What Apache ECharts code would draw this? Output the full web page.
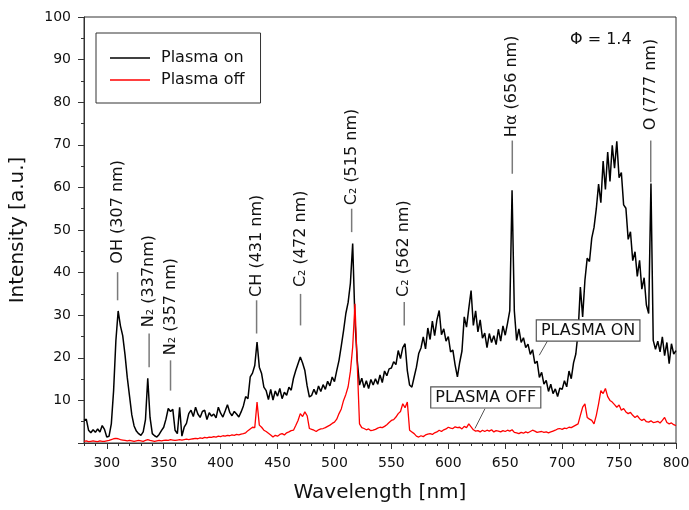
<!DOCTYPE html>
<html>
<head>
<meta charset="utf-8">
<script src="https://cdn.jsdelivr.net/npm/echarts@6/dist/echarts.min.js"></script>
<style>
  html, body { margin: 0; padding: 0; background: #fff; }
  #chart { width: 689px; height: 510px; }
</style>
</head>
<body>
<div id="chart"></div>
<script>
// Emission spectra sampled every 2 nm from 280 nm to 800 nm
const wavelengthStart = 280;
const wavelengthStep = 2;

const plasmaOn = [
  5.3, 5.6, 3.0, 2.4, 3.1, 2.5, 3.3, 2.6, 4.1, 3.2,
  1.4, 1.6, 4.5, 12.3, 24.0, 31.0, 27.5, 25.2, 20.8, 15.4,
  11.0, 6.6, 4.0, 2.8, 2.2, 1.8, 2.6, 5.5, 15.2, 6.0,
  2.2, 1.7, 1.4, 2.0, 2.9, 3.7, 5.6, 8.1, 7.4, 7.9,
  3.0, 2.2, 8.4, 1.6, 3.7, 4.6, 6.9, 7.7, 6.2, 8.4,
  6.8, 6.0, 7.4, 7.7, 5.5, 7.1, 6.3, 6.8, 5.9, 8.4,
  7.0, 6.1, 7.5, 9.0, 7.2, 6.4, 7.4, 6.8, 6.1, 7.3,
  8.7, 10.9, 10.4, 15.5, 16.4, 18.2, 23.7, 17.8, 16.3, 13.1,
  12.3, 10.2, 12.6, 10.1, 12.2, 11.0, 12.8, 10.4, 11.9, 11.2,
  13.1, 12.4, 15.2, 17.0, 18.6, 20.2, 18.8, 17.0, 13.4, 10.8,
  11.2, 12.6, 11.4, 13.4, 12.1, 13.7, 12.6, 14.5, 13.4, 15.5,
  14.4, 17.0, 19.4, 22.8, 26.4, 30.4, 33.0, 37.5, 46.8, 28.8,
  19.4, 13.6, 15.2, 13.0, 14.6, 12.8, 14.9, 13.6, 15.1, 13.8,
  16.0, 14.2, 16.9, 15.8, 17.4, 17.6, 19.1, 18.4, 21.7, 19.8,
  22.4, 23.3, 17.0, 13.6, 13.1, 15.5, 17.8, 21.0, 22.3, 24.9,
  22.1, 27.0, 24.3, 28.6, 25.2, 28.9, 31.1, 25.4, 26.8, 23.9,
  25.0, 21.4, 21.8, 18.3, 15.5, 18.9, 21.6, 29.6, 27.2, 31.6,
  35.8, 27.6, 31.0, 26.1, 28.9, 24.6, 25.8, 22.4, 25.7, 23.6,
  25.2, 23.1, 26.7, 23.9, 27.5, 25.3, 28.1, 31.1, 59.3, 31.0,
  24.1, 26.8, 23.6, 24.7, 22.4, 23.2, 20.8, 21.9, 18.7, 19.2,
  15.4, 16.6, 13.8, 14.7, 12.1, 13.8, 11.6, 12.7, 10.9, 12.9,
  12.6, 14.6, 13.2, 16.9, 15.1, 18.8, 20.9, 26.0, 36.6, 29.6,
  38.2, 43.4, 42.6, 48.1, 50.6, 55.0, 60.8, 56.4, 66.2, 59.5,
  68.3, 61.4, 69.9, 64.5, 70.8, 62.3, 63.5, 55.9, 55.1, 47.8,
  49.6, 42.8, 44.9, 39.1, 42.9, 36.1, 38.8, 32.4, 30.4, 60.9,
  24.1, 22.0, 23.9, 21.4, 24.9, 20.5, 23.6, 18.6, 23.3, 20.9,
  21.7
];

const plasmaOff = [
  0.4, 0.5, 0.3, 0.4, 0.5, 0.4, 0.3, 0.5, 0.4, 0.4,
  0.5, 0.6, 0.8, 1.0, 1.1, 1.0, 0.8, 0.7, 0.6, 0.5,
  0.6, 0.5, 0.4, 0.5, 0.6, 0.5, 0.4, 0.6, 0.8, 0.6,
  0.5, 0.4, 0.5, 0.6, 0.5, 0.6, 0.7, 0.6, 0.8, 0.7,
  0.6, 0.7, 0.8, 0.7, 0.8, 0.9, 0.8, 0.9, 1.0, 1.1,
  1.0, 1.2, 1.1, 1.3, 1.2, 1.4, 1.3, 1.5, 1.4, 1.6,
  1.5, 1.7, 1.6, 1.8, 1.7, 1.9, 1.8, 2.0, 1.9, 2.1,
  2.2, 2.4, 2.9, 3.3, 3.7, 3.6, 9.6, 4.2, 3.7, 3.0,
  2.7, 2.3, 1.9, 1.4, 1.8, 1.6, 2.0, 2.2, 1.9, 2.4,
  2.6, 2.9, 3.0, 4.1, 5.3, 6.9, 6.2, 7.3, 6.4, 3.4,
  3.2, 3.0, 2.7, 3.1, 3.3, 3.4, 3.6, 3.9, 4.2, 4.6,
  4.9, 5.6, 6.9, 8.0, 10.0, 11.4, 13.2, 16.8, 22.5, 32.7,
  18.6, 4.5, 3.6, 3.4, 3.1, 3.3, 2.9, 3.0, 3.2, 3.5,
  3.7, 3.6, 3.9, 4.3, 4.8, 5.3, 5.5, 6.1, 6.9, 7.4,
  9.2, 8.3, 9.6, 3.0, 2.6, 2.2, 1.6, 1.4, 1.7, 1.5,
  1.9, 2.1, 2.2, 2.0, 2.4, 2.6, 3.0, 2.7, 3.1, 3.3,
  3.7, 3.5, 3.4, 3.8, 3.6, 3.7, 3.3, 3.9, 3.6, 4.5,
  3.8, 3.1, 2.8, 2.9, 2.6, 3.0, 2.7, 3.0, 2.8, 3.1,
  2.6, 2.9, 2.8, 2.6, 2.9, 2.7, 3.0, 2.8, 3.1, 2.5,
  2.4, 2.2, 2.5, 2.3, 2.6, 2.4, 2.7, 3.0, 2.8, 2.5,
  2.6, 2.7, 2.5, 2.6, 2.4, 2.6, 2.8, 3.0, 3.3, 3.4,
  3.2, 3.5, 3.4, 3.7, 3.6, 3.9, 4.2, 4.5, 6.5, 8.4,
  9.2, 6.0, 5.6, 5.3, 4.5, 6.5, 9.2, 12.3, 11.6, 12.8,
  10.9, 10.0, 9.6, 9.0, 8.4, 8.9, 7.7, 8.1, 7.3, 6.9,
  7.2, 6.5, 6.0, 6.4, 5.7, 5.3, 5.6, 5.0, 4.9, 5.2,
  4.8, 4.9, 5.1, 4.7, 5.3, 6.0, 4.8, 4.5, 4.7, 4.3,
  4.1
];

const xTickLabels = [300, 350, 400, 450, 500, 550, 600, 650, 700, 750, 800];
const yTickLabels = [10, 20, 30, 40, 50, 60, 70, 80, 90, 100];

// Emission line identifications
const lineLabels = ['OH (307 nm)', 'N\u2082 (337nm)', 'N\u2082 (357 nm)', 'CH (431 nm)',
  'C\u2082 (472 nm)', 'C\u2082 (515 nm)', 'C\u2082 (562 nm)', 'H\u03b1 (656 nm)', 'O (777 nm)'];
const lineWavelengths = [309.5, 337.2, 356.0, 431.6, 470.2, 515.1, 561.3, 656.2, 777.8];
// Leader tick spans and label starts, in intensity units
const markerLow = [33.5, 17.8, 12.3, 25.7, 27.6, 49.5, 27.6, 63.2, 61.2];
const markerHigh = [40.1, 25.7, 19.4, 33.5, 35.0, 55.0, 33.1, 71.0, 71.0];
const labelBase = [42.1, 27.2, 20.6, 34.3, 36.6, 55.8, 34.3, 71.8, 73.4];

// Boxed curve labels with their pointers
const boxLabels = ['PLASMA ON', 'PLASMA OFF'];
const boxCenters = [[722.8, 26.4], [632.9, 10.7]];
const pointerFrom = [[687.0, 23.9], [632.2, 8.05]];
const pointerTo = [[679.9, 20.6], [623.4, 3.4]];

const FONT = 'DejaVu Sans';

const toPairs = values => values.map((v, i) => [wavelengthStart + i * wavelengthStep, v]);

const minorTicks = [];
for (let w = 280; w <= 800; w += 10) minorTicks.push(w);

function renderMarker(params, api) {
  const i = params.dataIndex;
  const wl = api.value(0);
  const a = api.coord([wl, api.value(1)]);
  const b = api.coord([wl, api.value(2)]);
  const t = api.coord([wl, api.value(3)]);
  return {
    type: 'group',
    children: [
      { type: 'line', shape: { x1: a[0], y1: a[1], x2: b[0], y2: b[1] },
        style: { stroke: '#7a7a7a', lineWidth: 1.5 } },
      { type: 'text', x: t[0], y: t[1], rotation: Math.PI / 2,
        style: { text: lineLabels[i], fontFamily: FONT, fontSize: 16, fill: '#111',
                 align: 'left', verticalAlign: 'middle' } }
    ]
  };
}

function renderBox(params, api) {
  const i = params.dataIndex;
  const c = api.coord([api.value(0), api.value(1)]);
  const p = api.coord([api.value(2), api.value(3)]);
  const q = api.coord([api.value(4), api.value(5)]);
  return {
    type: 'group',
    children: [
      { type: 'line', shape: { x1: p[0], y1: p[1], x2: q[0], y2: q[1] },
        style: { stroke: '#555', lineWidth: 1 } },
      { type: 'text', x: c[0], y: c[1],
        style: { text: boxLabels[i], fontFamily: FONT, fontSize: 16, lineHeight: 16, fill: '#111',
                 align: 'center', verticalAlign: 'middle',
                 backgroundColor: '#fff', borderColor: '#555', borderWidth: 1.2, padding: [2, 4] } }
    ]
  };
}

const chart = echarts.init(document.getElementById('chart'), null, { renderer: 'canvas' });

chart.setOption({
  animation: false,
  backgroundColor: '#fff',
  grid: {
    left: 84, right: 13, top: 17, bottom: 67,
    show: true, borderColor: '#333', borderWidth: 1,
    outerBoundsMode: 'none'
  },
  legend: {
    data: ['Plasma on', 'Plasma off'],
    orient: 'vertical',
    left: 96, top: 33,
    padding: [17, 16, 15, 14],
    icon: 'rect',
    itemWidth: 40, itemHeight: 1.6, itemGap: 6,
    borderColor: '#333', borderWidth: 1,
    textStyle: { fontFamily: FONT, fontSize: 16, lineHeight: 16, color: '#111', padding: [0, 0, 0, 6] }
  },
  graphic: [
    { type: 'text', left: 570, top: 32,
      style: { text: '\u03a6 = 1.4', fontFamily: FONT, fontSize: 16, fill: '#111' } }
  ],
  xAxis: [
    {
      type: 'value', min: 280, max: 800,
      name: 'Wavelength [nm]', nameLocation: 'middle', nameGap: 40,
      nameTextStyle: { fontFamily: FONT, fontSize: 20, color: '#111' },
      axisLine: { show: true, lineStyle: { color: '#333', width: 1 } },
      axisTick: { show: true, length: 6, customValues: xTickLabels, lineStyle: { color: '#333' } },
      axisLabel: { customValues: xTickLabels, margin: 13, fontFamily: FONT, fontSize: 14, color: '#111' },
      splitLine: { show: false }
    },
    {
      type: 'value', min: 280, max: 800, position: 'bottom',
      axisLine: { show: false },
      axisTick: { show: true, length: 3, customValues: minorTicks, lineStyle: { color: '#333' } },
      axisLabel: { show: false },
      splitLine: { show: false }
    }
  ],
  yAxis: {
    type: 'value', min: 0, max: 100, interval: 10,
    name: 'Intensity [a.u.]', nameLocation: 'middle', nameGap: 56,
    nameTextStyle: { fontFamily: FONT, fontSize: 20, color: '#111' },
    axisLine: { show: true, lineStyle: { color: '#333', width: 1 } },
    axisTick: { show: true, length: 6, lineStyle: { color: '#333' } },
    minorTick: { show: true, splitNumber: 2, length: 3, lineStyle: { color: '#333' } },
    axisLabel: { customValues: yTickLabels, margin: 13, fontFamily: FONT, fontSize: 14, color: '#111' },
    splitLine: { show: false }
  },
  series: [
    {
      name: 'Plasma on', type: 'line', data: toPairs(plasmaOn),
      symbol: 'none', showSymbol: false,
      lineStyle: { color: '#000', width: 1.5 }, itemStyle: { color: '#000' }
    },
    {
      name: 'Plasma off', type: 'line', data: toPairs(plasmaOff),
      symbol: 'none', showSymbol: false,
      lineStyle: { color: '#ff0000', width: 1.3 }, itemStyle: { color: '#ff0000' }
    },
    {
      type: 'custom', silent: true, clip: false,
      renderItem: renderMarker,
      encode: { x: 0, y: 1 },
      data: lineWavelengths.map((w, i) => [w, markerLow[i], markerHigh[i], labelBase[i]]),
      z: 5
    },
    {
      type: 'custom', silent: true, clip: false,
      renderItem: renderBox,
      encode: { x: 0, y: 1 },
      data: boxLabels.map((_, i) => [boxCenters[i][0], boxCenters[i][1],
        pointerFrom[i][0], pointerFrom[i][1], pointerTo[i][0], pointerTo[i][1]]),
      z: 6
    }
  ]
});
</script>
</body>
</html>
